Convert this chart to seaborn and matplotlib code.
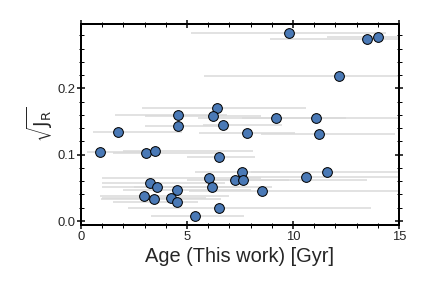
import numpy as np
import seaborn as sns
import matplotlib
matplotlib.use("Agg")
import matplotlib.pyplot as plt
from matplotlib.ticker import MultipleLocator

# ages (this work) and sqrt(J_R)
age = [9.83, 13.48, 14.01, 12.18, 6.43, 6.21, 4.59, 4.59, 6.71, 7.84,
       9.20, 11.07, 11.24, 1.76, 0.90, 3.07, 3.49, 6.52, 7.58, 7.26,
       7.63, 6.05, 6.17, 8.52, 10.61, 11.62, 3.25, 3.60, 4.51, 2.97,
       3.46, 4.25, 4.51, 6.52, 5.38]
sqrt_jr = [0.2835, 0.274, 0.277, 0.219, 0.170, 0.158, 0.160, 0.1435, 0.145, 0.132,
           0.1556, 0.1556, 0.1314, 0.1344, 0.1042, 0.1027, 0.1057, 0.0962, 0.074, 0.0616,
           0.0616, 0.065, 0.051, 0.046, 0.0656, 0.0746, 0.0574, 0.0514, 0.0464, 0.0384,
           0.0338, 0.0353, 0.0282, 0.020, 0.0071]
age_lo = [5.2, 8.9, 11.6, 5.8, 2.9, 3.0, 1.6, 3.0, 5.75, 5.55,
          5.5, 7.6, 8.5, 0.55, 0.3, 1.5, 2.0, 5.0, 5.4, 5.0,
          5.8, 1.0, 2.5, 5.1, 7.5, 8.0, 1.0, 1.0, 2.0, 0.9,
          0.95, 1.0, 1.5, 2.2, 3.3]
age_hi = [14.4, 16.0, 16.5, 16.0, 10.6, 8.5, 6.9, 6.5, 9.5, 10.1,
          12.5, 15.5, 14.8, 4.75, 3.7, 6.5, 8.1, 8.2, 9.4, 13.5,
          9.8, 8.5, 9.0, 16.0, 16.0, 16.0, 6.8, 7.5, 8.0, 7.0,
          6.6, 5.9, 5.5, 13.7, 7.7]

sns.set_theme(style="ticks")
plt.rcParams['font.family'] = ['Liberation Sans', 'DejaVu Sans']

fig = plt.figure(figsize=(6, 4), dpi=72)
ax = fig.add_axes([0.1875, 0.21875, 0.736, 0.698])

x = np.array(age)
y = np.array(sqrt_jr)
xerr = np.vstack([x - np.array(age_lo), np.array(age_hi) - x])
ax.errorbar(x, y, xerr=xerr, fmt='none', ecolor='#d9d9d9', elinewidth=1.5,
            capsize=0, zorder=1)
sns.scatterplot(x=x, y=y, ax=ax, s=95, color='#4a79b6', edgecolor='black',
                linewidth=1.0, zorder=3)

ax.set_xlim(0, 15)
ax.set_ylim(-0.006, 0.297)
ax.xaxis.set_major_locator(MultipleLocator(5))
ax.xaxis.set_minor_locator(MultipleLocator(1))
ax.yaxis.set_major_locator(MultipleLocator(0.1))
ax.yaxis.set_minor_locator(MultipleLocator(0.02))
ax.tick_params(which='both', direction='inout', top=True, right=True,
               color='black', labelsize=13, labelcolor='#262626', pad=2)
ax.tick_params(which='major', length=8, width=1.5)
ax.tick_params(which='minor', length=5, width=1.0)
for sp in ax.spines.values():
    sp.set_linewidth(2)
    sp.set_color('black')

ax.set_xlabel("Age (This work) [Gyr]", fontsize=20, color='#262626', labelpad=4)
ax.set_ylabel(r"$\sqrt{\mathrm{J_R}}$", fontsize=19, color='#262626', labelpad=2)

plt.savefig('out.png', dpi=72)
